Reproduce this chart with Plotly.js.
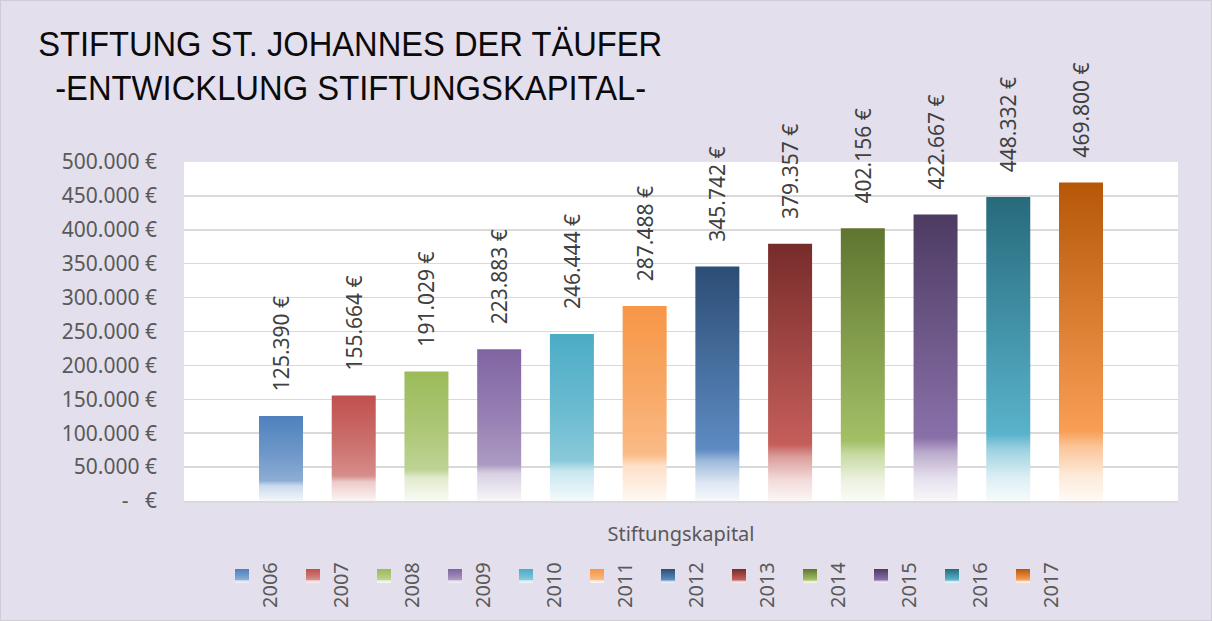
<!DOCTYPE html>
<html>
<head>
<meta charset="utf-8">
<script src="https://cdn.plot.ly/plotly-3.0.1.min.js"></script>
<style>
  html, body { margin: 0; padding: 0; background: #E4DFEC; }
  #wrap { position: relative; width: 1212px; height: 621px; }
  #chart { width: 1212px; height: 621px; }
  #border { position: absolute; left: 0; top: 0; width: 1210px; height: 619px; border: 1px solid #D0CCD6; pointer-events: none; }
</style>
</head>
<body>
<div id="wrap"><div id="chart"></div><div id="border"></div></div>
<script>
// ---- data ----
const years = ['2006','2007','2008','2009','2010','2011','2012','2013','2014','2015','2016','2017'];
const capital = [125390, 155664, 191029, 223883, 246444, 287488, 345742, 379357, 402156, 422667, 448332, 469800];
const category = ['Stiftungskapital'];
const yTickVals = [0, 50000, 100000, 150000, 200000, 250000, 300000, 350000, 400000, 450000, 500000];
const yTickText = ['-\u00a0\u00a0\u00a0€', '50.000 €', '100.000 €', '150.000 €', '200.000 €', '250.000 €',
                   '300.000 €', '350.000 €', '400.000 €', '450.000 €', '500.000 €'];
const titleLines = ['STIFTUNG ST. JOHANNES DER TÄUFER', '-ENTWICKLUNG STIFTUNGSKAPITAL-'];

// ---- styles ----
const accents = ['#4F81BD','#C0504D','#9BBB59','#8064A2','#4BACC6','#F79646',
                 '#4F81BD','#C0504D','#9BBB59','#8064A2','#4BACC6','#F79646'];
const darks   = [null,null,null,null,null,null,
                 '#2C4D75','#772C2A','#5F7530','#4D3B62','#276A7C','#B65708'];

function hex2rgb(h){ h=h.replace('#',''); return [parseInt(h.substr(0,2),16),parseInt(h.substr(2,2),16),parseInt(h.substr(4,2),16)]; }
function mix(h, t){ const c=hex2rgb(h); return 'rgb('+c.map(v=>Math.round(v+(255-v)*t)).join(',')+')'; }
function stopsFor(i){
  const a = accents[i];
  if (darks[i]) {
    return [[0, darks[i]], [0.78, mix(a,0.08)], [0.83, mix(a,0.45)], [0.92, mix(a,0.8)], [1, mix(a,0.95)]];
  }
  return [[0, a], [0.45, mix(a,0.18)], [0.76, mix(a,0.35)], [0.82, mix(a,0.7)], [1, mix(a,0.94)]];
}

const W = 1212, H = 621;
const M = {l:184, r:34, t:162, b:120};
const PW = W - M.l - M.r, PH = H - M.t - M.b;
const px2x = p => (p - M.l) / PW;
const px2y = p => (H - M.b - p) / PH;

const traces = years.map((yr, i) => ({
  type: 'bar',
  name: yr,
  x: category,
  y: [capital[i]],
  marker: {color: accents[i], line: {width: 0}},
  texttemplate: '\u00a0\u00a0\u00a0\u00a0%{y:,.0f} €',
  textposition: 'outside',
  textangle: -90,
  constraintext: 'none',
  cliponaxis: false,
  textfont: {family: 'Noto Sans, Open Sans, sans-serif', size: 21, color: '#404040'},
  showlegend: false,
  hoverinfo: 'skip'
}));

const shapes = [];
const annotations = [];
years.forEach((yr, i) => {
  const sx = 235 + 71 * i;
  shapes.push({type:'rect', xref:'paper', yref:'paper', layer:'above',
    x0: px2x(sx), x1: px2x(sx + 14), y0: px2y(583), y1: px2y(569),
    fillcolor: accents[i], line:{width:0}});
  annotations.push({xref:'paper', yref:'paper', x: px2x(sx + 34), y: px2y(585),
    xanchor:'center', yanchor:'middle', text: yr, textangle: -90, showarrow:false,
    font:{family:'Noto Sans, Open Sans, sans-serif', size:20, color:'#595959'}});
});
const titleFont = {family:'Liberation Sans, Arial, sans-serif', size:35, color:'#0a0a0a'};
annotations.push({xref:'paper', yref:'paper', x: px2x(350), y: px2y(43), xanchor:'center', yanchor:'middle',
  text: titleLines[0], showarrow:false, font: titleFont});
annotations.push({xref:'paper', yref:'paper', x: px2x(350.5), y: px2y(87), xanchor:'center', yanchor:'middle',
  text: titleLines[1], showarrow:false, font: titleFont});
const titleWidths = [624, 591];

const layout = {
  width: W, height: H,
  margin: M,
  paper_bgcolor: '#E4DFEC',
  plot_bgcolor: '#FFFFFF',
  separators: ',.',
  barmode: 'group',
  bargap: 0.122,
  bargroupgap: 0.395,
  showlegend: false,
  xaxis: {
    type: 'category',
    showgrid: false,
    showline: true, linecolor: '#D9D9D9', linewidth: 1.5,
    ticks: '',
    ticklabelstandoff: 14,
    tickfont: {family: 'Noto Sans, Open Sans, sans-serif', size: 20, color: '#595959'},
    fixedrange: true
  },
  yaxis: {
    range: [0, 500000],
    tickvals: yTickVals,
    ticktext: yTickText,
    showgrid: true, gridcolor: '#D9D9D9', gridwidth: 1.5,
    zeroline: false,
    showline: false,
    ticks: '',
    ticklabelstandoff: 26,
    tickfont: {family: 'Noto Sans, Open Sans, sans-serif', size: 21, color: '#595959'},
    fixedrange: true
  },
  shapes: shapes,
  annotations: annotations
};

Plotly.newPlot('chart', traces, layout, {displayModeBar: false, staticPlot: true}).then(gd => {
  const svg = gd.querySelector('svg.main-svg');
  const NS = 'http://www.w3.org/2000/svg';
  let defs = svg.querySelector('defs');
  if (!defs) { defs = document.createElementNS(NS, 'defs'); svg.insertBefore(defs, svg.firstChild); }
  years.forEach((yr, i) => {
    const g = document.createElementNS(NS, 'linearGradient');
    g.setAttribute('id', 'grad' + i);
    g.setAttribute('x1', '0'); g.setAttribute('y1', '0'); g.setAttribute('x2', '0'); g.setAttribute('y2', '1');
    stopsFor(i).forEach(s => {
      const st = document.createElementNS(NS, 'stop');
      st.setAttribute('offset', s[0]);
      st.setAttribute('stop-color', s[1]);
      g.appendChild(st);
    });
    defs.appendChild(g);
  });
  gd.querySelectorAll('.barlayer .trace').forEach((t, i) => {
    t.querySelectorAll('.point path').forEach(p => { p.style.fill = 'url(#grad' + i + ')'; });
  });
  gd.querySelectorAll('.shapelayer path').forEach((p, i) => {
    if (i < years.length) p.style.fill = 'url(#grad' + i + ')';
  });
  // slightly condensed title lettering, as in the original
  gd.querySelectorAll('text.annotation-text').forEach(t => {
    const k = titleLines.indexOf(t.textContent);
    if (k >= 0) {
      t.setAttribute('textLength', titleWidths[k]);
      t.setAttribute('lengthAdjust', 'spacingAndGlyphs');
    }
  });
});
</script>
</body>
</html>
